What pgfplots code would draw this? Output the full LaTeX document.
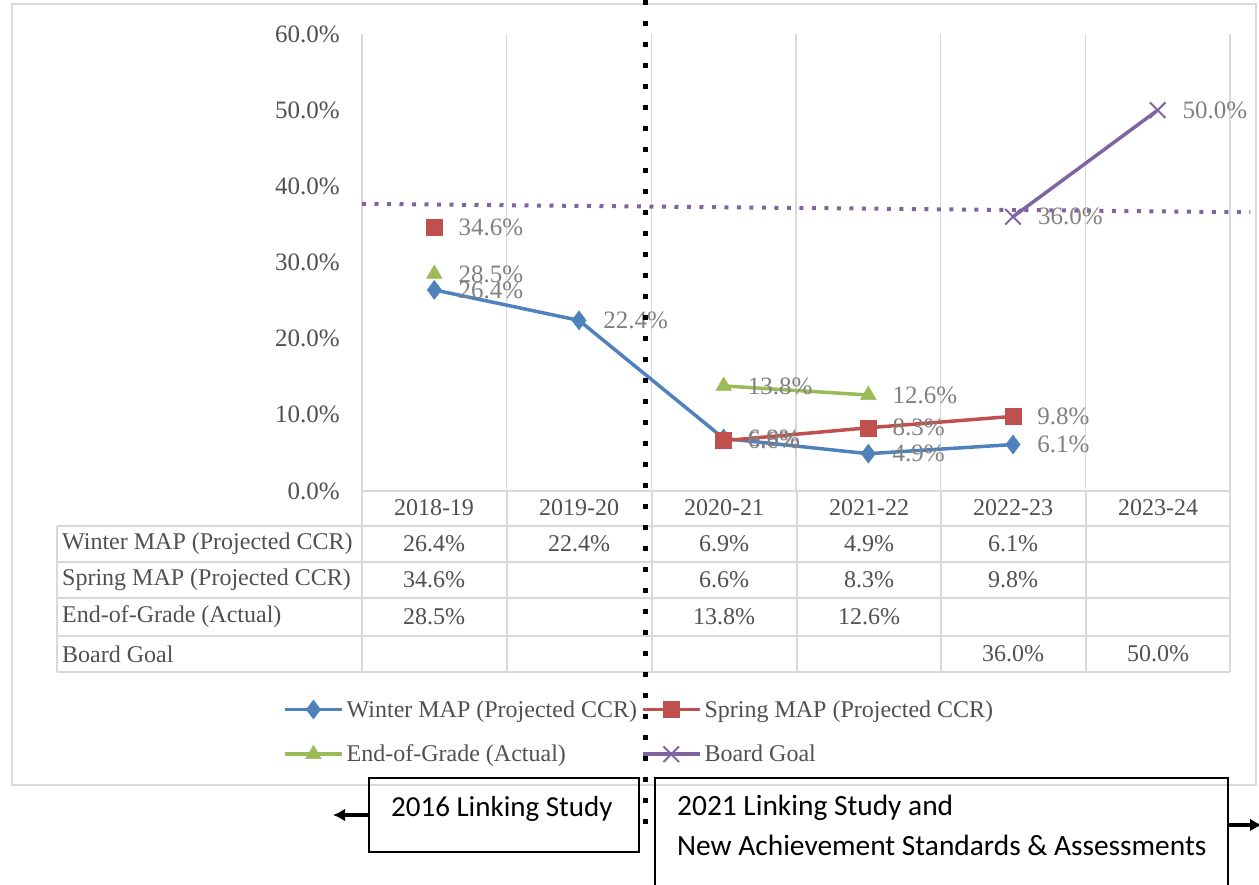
\documentclass[border=0pt]{standalone}
\usepackage{pgfplots}
\usepackage{pgfplotstable}
\pgfplotsset{compat=1.18}
\usepackage{fontspec}
\setmainfont{Liberation Serif}
\newfontfamily\calibri{Carlito}
\usetikzlibrary{arrows.meta}
\definecolor{winter}{HTML}{4F81BD}
\definecolor{spring}{HTML}{C0504D}
\definecolor{eog}{HTML}{9BBB59}
\definecolor{goal}{HTML}{8064A2}
\definecolor{lbl}{HTML}{808080}
\definecolor{txt}{HTML}{505050}
\definecolor{gridc}{HTML}{D9D9D9}

\pgfplotstableread{
x winter spring eog goal
0 26.4 34.6 28.5 nan
1 22.4 nan nan nan
2 6.9 6.6 13.8 nan
3 4.9 8.3 12.6 nan
4 6.1 9.8 nan 36.0
5 nan nan nan 50.0
}\data

\newcommand{\tbl}{\fontsize{24}{28}\selectfont}
\newcommand{\lblf}{\fontsize{25}{28}\selectfont}

\begin{document}
\begin{tikzpicture}
\useasboundingbox (0pt,0pt) rectangle (1259pt,884pt);
\draw[gridc, line width=1.2pt] (12pt,880pt) rectangle (1256pt,99pt);
\begin{axis}[
  at={(362pt,393pt)}, anchor=south west,
  scale only axis, width=868pt, height=457pt,
  xmin=-0.5, xmax=5.5, ymin=0, ymax=60,
  clip=false,
  axis line style={draw=none},
  xtick={-0.5,0.5,...,5.5}, xticklabels={},
  xmajorgrids, major grid style={gridc, line width=1.5pt},
  ytick={0,10,...,60},
  yticklabel={\pgfmathprintnumber[fixed,fixed zerofill,precision=1]{\tick}\%},
  yticklabel style={inner sep=0pt, xshift=-22pt, text=txt, font=\lblf},
  major tick length=0pt,
  tick style={draw=none},
  /pgf/number format/assume math mode=true,
  unbounded coords=jump,
  nodes near coords={\pgfmathprintnumber[fixed,fixed zerofill,precision=1]{\pgfplotspointmeta}\%},
  every node near coord/.append style={anchor=west, xshift=24pt, inner sep=0pt, text=lbl, font=\lblf},
  legend columns=2,
  legend image code/.code={\draw[mark repeat=2,mark phase=2] plot coordinates {(0pt,0pt) (28.5pt,0pt) (57pt,0pt)};},
  legend style={at={(axis description cs:-0.091,-0.457)}, anchor=north west, draw=none, fill=none,
    inner sep=0pt, font=\tbl, text=txt, row sep=26pt,
    nodes={inner sep=0pt, anchor=west},
    /tikz/every odd column/.style={column sep=3pt},
    /tikz/every even column/.style={column sep=4pt}},
  legend cell align=left,
]
\addplot[goal, line width=4pt, dash pattern=on 4pt off 8.5pt, forget plot, nodes near coords={}] coordinates {(-0.5,37.7) (5.64,36.6)};
\addplot[winter, line width=3.5pt, mark=diamond*, mark size=9.5pt, mark options={solid, line width=0.5pt}] table[x=x,y=winter] {\data};
\addlegendentry{Winter MAP (Projected CCR)}
\addplot[spring, line width=3.5pt, mark=square*, mark size=8pt, mark options={solid, line width=0.5pt}] table[x=x,y=spring] {\data};
\addlegendentry{Spring MAP (Projected CCR)}
\addplot[eog, line width=3.5pt, mark=triangle*, mark size=9pt, mark options={solid, line width=0.5pt}] table[x=x,y=eog] {\data};
\addlegendentry{End-of-Grade (Actual)}
\addplot[goal, line width=3.5pt, mark=x, mark size=11pt, mark options={solid, line width=2pt}] table[x=x,y=goal] {\data};
\addlegendentry{Board Goal}
\end{axis}

% data table
\begin{scope}[gridc, line width=1.5pt]
\draw (362pt,393pt) -- (1230pt,393pt);
\foreach \y in {358,322,286,248,212} \draw (57pt,\y pt) -- (1230pt,\y pt);
\draw (57pt,358pt) -- (57pt,212pt);
\foreach \x in {362,507,652,797,941,1086,1230} \draw (\x pt,393pt) -- (\x pt,212pt);
\end{scope}
\begin{scope}[every node/.style={text=txt, font=\tbl, inner sep=0pt}]
\foreach \x/\t in {434/2018-19,579/2019-20,724/2020-21,869/2021-22,1013/2022-23,1158/2023-24}
  \node at (\x pt,376pt) {\t};
\node[anchor=west] at (62pt,340pt) {Winter MAP (Projected CCR)};
\node[anchor=west] at (62pt,304pt) {Spring MAP (Projected CCR)};
\node[anchor=west] at (62pt,267pt) {End-of-Grade (Actual)};
\node[anchor=west] at (62pt,230pt) {Board Goal};
\node at (434pt,340pt) {26.4\%}; \node at (579pt,340pt) {22.4\%};
\node at (724pt,340pt) {6.9\%}; \node at (869pt,340pt) {4.9\%}; \node at (1013pt,340pt) {6.1\%};
\node at (434pt,304pt) {34.6\%}; \node at (724pt,304pt) {6.6\%};
\node at (869pt,304pt) {8.3\%}; \node at (1013pt,304pt) {9.8\%};
\node at (434pt,267pt) {28.5\%}; \node at (724pt,267pt) {13.8\%}; \node at (869pt,267pt) {12.6\%};
\node at (1013pt,230pt) {36.0\%}; \node at (1158pt,230pt) {50.0\%};
\end{scope}

% divider
\draw[line width=5pt, dash pattern=on 5pt off 16pt] (645pt,884pt) -- (645pt,49pt);

% boxes
\draw[line width=1.2pt] (369pt,106pt) rectangle (639pt,32pt);
\node[anchor=west, inner sep=0pt, font=\calibri\fontsize{29}{33}\selectfont] at (391pt,75pt) {2016 Linking Study};
\draw[line width=3.5pt, -{Latex[length=12pt,width=13pt]}] (369pt,69pt) -- (333pt,69pt);
\draw[line width=1.2pt] (655pt,106pt) rectangle (1228pt,-4pt);
\node[anchor=west, inner sep=0pt, font=\calibri\fontsize{29.4}{33}\selectfont] at (677pt,76pt) {2021 Linking Study and};
\node[anchor=west, inner sep=0pt, font=\calibri\fontsize{29.4}{33}\selectfont] at (677pt,39pt) {New Achievement Standards \& Assessments};
\draw[line width=3.5pt, -{Latex[length=12pt,width=13pt]}] (1228pt,59pt) -- (1262pt,59pt);
\end{tikzpicture}
\end{document}
